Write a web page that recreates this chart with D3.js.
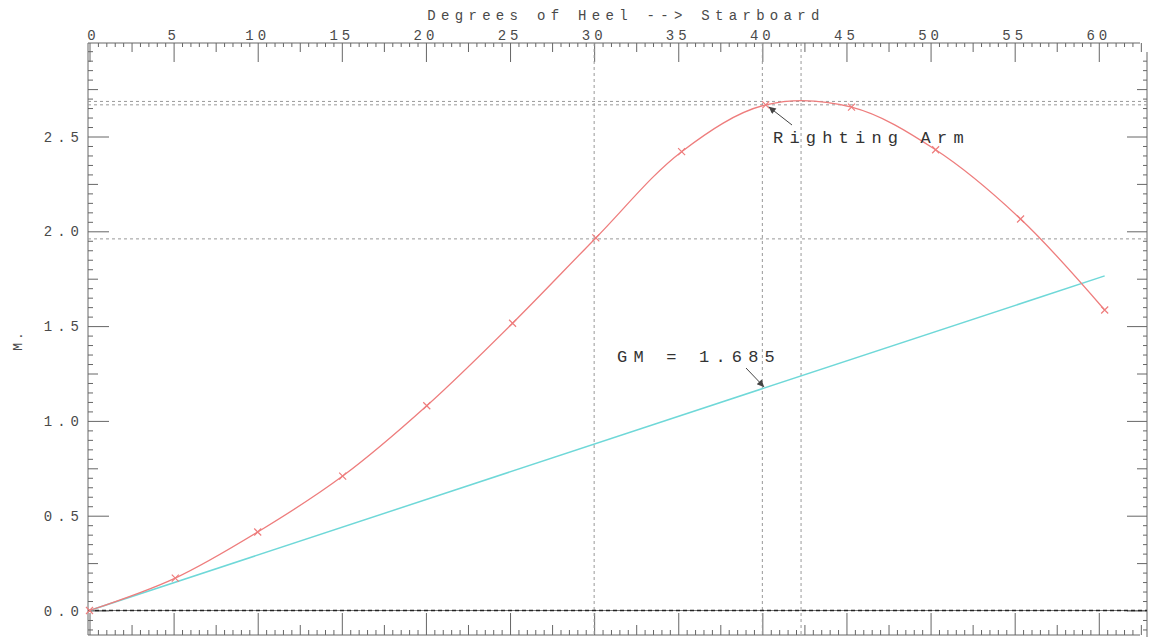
<!DOCTYPE html>
<html><head><meta charset="utf-8">
<script src="https://cdn.jsdelivr.net/npm/d3@7"></script>
<style>
body{margin:0;background:#fff;}
svg{display:block;}
</style></head>
<body><svg id="c" width="1150" height="637"></svg>
<script>
// ---- data ----
const heelDeg   = [0, 5.1, 10.0, 15.05, 20.05, 25.15, 30.1, 35.2, 40.2, 45.3, 50.3, 55.35, 60.35];
const rightArm  = [0, 0.171, 0.414, 0.709, 1.08, 1.515, 1.965, 2.42, 2.667, 2.655, 2.43, 2.065, 1.585];
const gmLineDeg = [0, 60.35];
const gmLineVal = [0, 1.765];
const xTickLabels = [0, 5, 10, 15, 20, 25, 30, 35, 40, 45, 50, 55, 60];
const yTickLabels = [0.0, 0.5, 1.0, 1.5, 2.0, 2.5];
const refHeel  = [30, 40, 42.3];
const refArm   = [2.685, 2.667, 1.96];
const titleText = "Degrees of Heel --> Starboard";
const yLabel = "M.";
const armLabel = "Righting Arm";
const gmLabel = "GM = 1.685";

const svg = d3.select("#c");
const L = 88, R = 1140, RA = 1147, T = 43, B = 635;
const x = d3.scaleLinear().domain([0, 62.45]).range([L + 1.5, R]);
const y = d3.scaleLinear().domain([0, 3]).range([610.5, 41.7]);

const mono = "'Liberation Mono','DejaVu Sans Mono',monospace";

function tickGroup(axisFn, scale, vals, size, tx, ty) {
  const g = svg.append("g").attr("transform", `translate(${tx},${ty})`)
    .call(axisFn(scale).tickValues(vals).tickSize(size).tickFormat(""));
  g.select(".domain").remove();
  g.selectAll("line").attr("stroke", "#666").attr("stroke-width", 1);
  return g;
}
const eps = 1e-6;
const xMinor = d3.range(0, 62.5 + eps, 0.5).filter(v => Math.abs(v / 2.5 - Math.round(v / 2.5)) > eps);
const xMed = d3.range(2.5, 62.5 + eps, 5);
const xMaj = d3.range(0, 60 + eps, 5);
const yMinor = d3.range(-0.1, 3.0 + eps, 0.05).filter(v => Math.abs(v / 0.25 - Math.round(v / 0.25)) > eps);
const yMed = d3.range(0.25, 3.0, 0.5);
const yMaj = d3.range(0, 2.5 + eps, 0.5);

// frame lines
const frame = svg.append("g").attr("stroke", "#666").attr("stroke-width", 1);
frame.append("line").attr("x1", L).attr("x2", R).attr("y1", T).attr("y2", T);
frame.append("line").attr("x1", L).attr("x2", R).attr("y1", B).attr("y2", B);
frame.append("line").attr("x1", L).attr("x2", L).attr("y1", T).attr("y2", B);
frame.append("line").attr("x1", RA).attr("x2", RA).attr("y1", 52).attr("y2", 637);

// top ticks (pointing down, inward)
tickGroup(d3.axisBottom, x, xMinor, 4, 0, T);
tickGroup(d3.axisBottom, x, xMed, 9, 0, T);
tickGroup(d3.axisBottom, x, xMaj, 19, 0, T);
// bottom ticks (pointing up)
tickGroup(d3.axisTop, x, xMinor, 5, 0, B);
tickGroup(d3.axisTop, x, xMed, 10, 0, B);
tickGroup(d3.axisTop, x, xMaj, 22, 0, B);
// left ticks (pointing right)
tickGroup(d3.axisRight, y, yMinor, 5, L, 0);
tickGroup(d3.axisRight, y, yMed, 10, L, 0);
tickGroup(d3.axisRight, y, yMaj, 21, L, 0);
// right ticks (pointing left)
tickGroup(d3.axisLeft, y, yMinor.filter(v => v < 2.95), 4, RA, 0);
tickGroup(d3.axisLeft, y, yMed, 10, RA, 0);
tickGroup(d3.axisLeft, y, yMaj, 20, RA, 0);

// top labels
svg.append("g").selectAll("text").data(xTickLabels).join("text")
  .attr("x", d => x(d) + (d === 0 ? 4 : 0)).attr("y", 40)
  .attr("text-anchor", "middle")
  .attr("font-family", mono).attr("font-size", 14).attr("letter-spacing", 4)
  .attr("fill", "#4a4a4a").text(d => String(d));
// left labels
svg.append("g").selectAll("text").data(yTickLabels).join("text")
  .attr("x", 84).attr("y", d => y(d) + 5)
  .attr("text-anchor", "end")
  .attr("font-family", mono).attr("font-size", 14).attr("letter-spacing", 5)
  .attr("fill", "#4a4a4a").text(d => d.toFixed(1));
// title
svg.append("text").attr("x", 626).attr("y", 20).attr("text-anchor", "middle")
  .attr("font-family", mono).attr("font-size", 14).attr("letter-spacing", 5.3)
  .attr("fill", "#4a4a4a").text(titleText);
// y label
svg.append("text").attr("transform", "translate(22,340) rotate(-90)")
  .attr("text-anchor", "middle")
  .attr("font-family", mono).attr("font-size", 13).attr("letter-spacing", 3)
  .attr("fill", "#4a4a4a").text(yLabel);

// dashed reference lines
const grid = svg.append("g").attr("stroke", "#999").attr("stroke-width", 1).attr("stroke-dasharray", "3,3");
grid.selectAll(".v").data(refHeel).join("line")
  .attr("x1", d => x(d)).attr("x2", d => x(d)).attr("y1", T).attr("y2", B);
grid.selectAll(".h").data(refArm).join("line")
  .attr("x1", L).attr("x2", RA).attr("y1", d => y(d)).attr("y2", d => y(d));

// zero line
svg.append("line").attr("x1", L).attr("x2", RA).attr("y1", y(0)).attr("y2", y(0))
  .attr("stroke", "#777").attr("stroke-width", 1.2);
svg.append("line").attr("x1", L).attr("x2", RA).attr("y1", y(0)).attr("y2", y(0))
  .attr("stroke", "#222").attr("stroke-width", 1.5).attr("stroke-dasharray", "4,3");

// GM line
const gmPts = gmLineDeg.map((d, i) => [d, gmLineVal[i]]);
svg.append("path").datum(gmPts)
  .attr("d", d3.line().x(d => x(d[0])).y(d => y(d[1])))
  .attr("fill", "none").attr("stroke", "#6fd8d8").attr("stroke-width", 1.5);

// righting arm curve
const armPts = heelDeg.map((d, i) => [d, rightArm[i]]);
svg.append("path").datum(armPts)
  .attr("d", d3.line().x(d => x(d[0])).y(d => y(d[1])).curve(d3.curveCatmullRom.alpha(0.5)))
  .attr("fill", "none").attr("stroke", "#ee7d7d").attr("stroke-width", 1.3);
// markers
const s = 3.5;
svg.append("g").selectAll("path").data(armPts).join("path")
  .attr("d", d => { const cx = x(d[0]), cy = y(d[1]);
    return `M${cx - s},${cy - s}L${cx + s},${cy + s}M${cx - s},${cy + s}L${cx + s},${cy - s}`; })
  .attr("stroke", "#ee7d7d").attr("stroke-width", 1.2).attr("fill", "none");

// annotations
svg.append("defs").append("marker").attr("id", "ah").attr("viewBox", "0 0 10 10")
  .attr("refX", 10).attr("refY", 5).attr("markerWidth", 9).attr("markerHeight", 7)
  .attr("orient", "auto").attr("markerUnits", "userSpaceOnUse")
  .append("path").attr("d", "M0,0L10,5L0,10z").attr("fill", "#444");

function annot(text, tx, ty, fx, fy, tox, toy) {
  svg.append("text").attr("x", tx).attr("y", ty)
    .attr("font-family", mono).attr("font-size", 17).attr("letter-spacing", 6.2)
    .attr("fill", "#333").text(text);
  svg.append("line").attr("x1", fx).attr("y1", fy).attr("x2", tox).attr("y2", toy)
    .attr("stroke", "#444").attr("stroke-width", 1).attr("marker-end", "url(#ah)");
}
annot(armLabel, 773, 143, 792, 125, x(heelDeg[8]) + 3, y(rightArm[8]) + 2);
annot(gmLabel, 617, 362, 746, 368, x(40.1), y(1.685 * 40.1 * Math.PI / 180));
</script></body></html>
